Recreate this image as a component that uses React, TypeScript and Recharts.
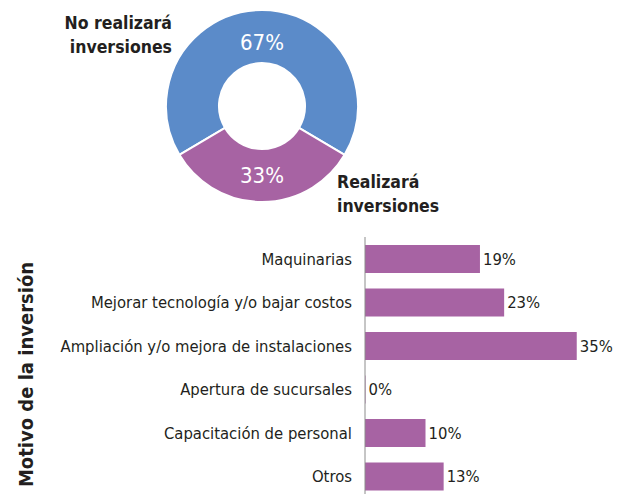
import React from 'react';
import { PieChart, Pie, Cell, BarChart, Bar, XAxis, YAxis, LabelList } from 'recharts';

const pieNames = ['No realizará inversiones', 'Realizará inversiones'];
const pieValues = [67, 33];
const pieColors = ['#5b8bc9', '#a763a3'];

const motivos = [
  'Maquinarias',
  'Mejorar tecnología y/o bajar costos',
  'Ampliación y/o mejora de instalaciones',
  'Apertura de sucursales',
  'Capacitación de personal',
  'Otros',
];
const motivoValues = [19, 23, 35, 0, 10, 13];

const FONT = '"DejaVu Sans Condensed", "Liberation Sans Narrow", "Noto Sans", sans-serif';

const pieData = pieNames.map((name, i) => ({ name, value: pieValues[i] }));
const barData = motivos.map((name, i) => ({ name, value: motivoValues[i] }));

// name label placement relative to the pie centre
const nameSpots: Record<string, { dx: number; dy: number; anchor: 'start' | 'end' }> = {
  'No realizará inversiones': { dx: -90, dy: -77, anchor: 'end' },
  'Realizará inversiones': { dx: 75, dy: 82, anchor: 'start' },
};

const RAD = Math.PI / 180;

const renderPieLabel = (props: any) => {
  const { cx, cy, midAngle, innerRadius, outerRadius, value, name } = props;
  const r = innerRadius + (outerRadius - innerRadius) * 0.45;
  const x = cx + r * Math.cos(-midAngle * RAD);
  const y = cy + r * Math.sin(-midAngle * RAD) + 3;
  const spot = nameSpots[name];
  const words = name.split(' ');
  const first = words.slice(0, -1).join(' ');
  const last = words[words.length - 1];
  return (
    <g>
      <text x={x} y={y} fill="#ffffff" fontSize={22} fontFamily={FONT} textAnchor="middle" dominantBaseline="central">
        {value}%
      </text>
      <text x={cx + spot.dx} y={cy + spot.dy} fill="#231f20" fontSize={17.5} fontWeight="bold" fontFamily={FONT} textAnchor={spot.anchor}>
        <tspan x={cx + spot.dx} dy={0}>{first}</tspan>
        <tspan x={cx + spot.dx} dy={24}>{last}</tspan>
      </text>
    </g>
  );
};

const AxisTitle = (props: any) => {
  const { viewBox } = props;
  const x = viewBox.x + 26;
  const y = viewBox.y + viewBox.height / 2 + 7;
  return (
    <text x={x} y={y} transform={`rotate(-90, ${x}, ${y})`} textAnchor="middle" dominantBaseline="central" fontSize={20} fontWeight="bold" fontFamily={FONT} fill="#231f20">
      Motivo de la inversión
    </text>
  );
};

const App: React.FC = () => {
  return (
    <div style={{ position: 'absolute', left: 0, top: 0, width: 619, height: 494, background: '#ffffff', overflow: 'hidden' }}>
      <div style={{ position: 'absolute', left: 0, top: 0 }}>
        <PieChart width={619} height={230} margin={{ top: 0, right: 0, bottom: 0, left: 0 }}>
          <Pie
            data={pieData}
            dataKey="value"
            nameKey="name"
            cx={262}
            cy={106}
            innerRadius={43}
            outerRadius={96}
            startAngle={-30.6}
            endAngle={329.4}
            stroke="#ffffff"
            strokeWidth={2}
            label={renderPieLabel}
            labelLine={false}
            isAnimationActive={false}
          >
            {pieData.map((d, i) => (
              <Cell key={d.name} fill={pieColors[i]} />
            ))}
          </Pie>
        </PieChart>
      </div>
      <div style={{ position: 'absolute', left: 0, top: 237 }}>
        <BarChart
          width={619}
          height={261}
          data={barData}
          layout="vertical"
          margin={{ top: 0, right: 12, bottom: 0, left: 0 }}
          barSize={28}
        >
          <XAxis type="number" domain={[0, 40]} hide />
          <YAxis
            type="category"
            dataKey="name"
            width={365}
            axisLine={{ stroke: '#8c8c8c', strokeWidth: 1 }}
            tickLine={false}
            tickMargin={7}
            tick={{ fill: '#231f20', fontSize: 16.5, fontFamily: FONT }}
            interval={0}
            label={<AxisTitle />}
          />
          <Bar dataKey="value" fill={pieColors[1]} minPointSize={0.5} isAnimationActive={false}>
            <LabelList
              dataKey="value"
              position="right"
              offset={3}
              formatter={(v: any) => `${v}%`}
              style={{ fill: '#231f20', fontSize: 16.5, fontFamily: FONT }}
            />
          </Bar>
        </BarChart>
      </div>
    </div>
  );
};

export default App;
